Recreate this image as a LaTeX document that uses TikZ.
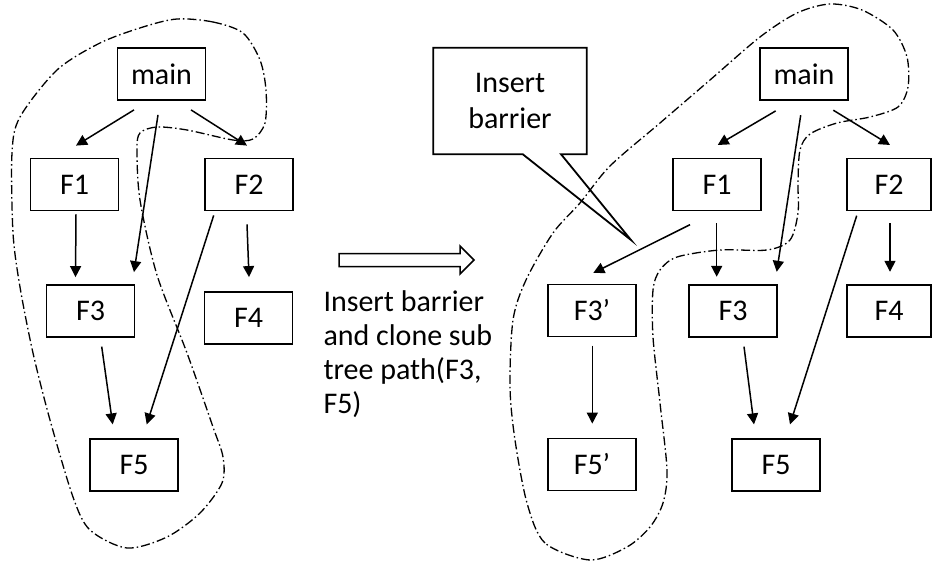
\documentclass[tikz,border=0pt]{standalone}
\usepackage{fontspec}
\setmainfont{Carlito}
\usetikzlibrary{arrows.meta,calc}
\begin{document}
\begin{tikzpicture}[x=1pt,y=-1pt,
  lbl/.style={font=\fontsize{30}{34}\selectfont},
  fbox/.style={draw, line width=1.8pt, minimum width=88pt, minimum height=52pt, inner sep=0pt, lbl},
  arr/.style={line width=1.5pt, -{Triangle[length=11pt,width=11pt]}},
  region/.style={line width=1.3pt, dash pattern=on 9pt off 3pt on 1.5pt off 3pt}]
\path[use as bounding box] (0,0) rectangle (932,567);

% ---- original call tree ----
\node[fbox] (mL)  at (161.5,74)  {main};
\node[fbox] (f1L) at (74.5,184.5) {F1};
\node[fbox] (f2L) at (249,184.5)  {F2};
\node[fbox] (f3L) at (90.5,311)   {F3};
\node[fbox] (f4L) at (248.5,318)  {F4};
\node[fbox] (f5L) at (134,465)    {F5};

\draw[arr] ($(mL.south)+(-27.5,9)$) -- ($(f1L.north)+(1.5,-12)$);
\draw[arr] ($(mL.south)+(29.5,9)$) -- ($(f2L.north)+(-2,-12)$);
\draw[arr] ($(mL.south)+(-3.5,14)$) -- ($(f3L.north)+(43.5,-12)$);
\draw[arr] ($(f1L.south)+(1.5,3)$) -- ($(f3L.north)+(-15,-7)$);
\draw[arr] ($(f2L.south)+(-2,13)$) -- ($(f4L.north)+(0.5,-14)$);
\draw[arr] ($(f2L.south)+(-35.3,4)$) -- ($(f5L.north)+(12.7,-13.7)$);
\draw[arr] ($(f3L.south)+(11.2,8.7)$) -- ($(f5L.north)+(-21.3,-13.7)$);

% region of the shared sub tree
\draw[region] plot[smooth cycle] coordinates {
  (177,19) (213,22) (243,33) (260,60) (266,90) (265,123) (253,139) (233,140)
  (187,130) (157,127) (140,133) (137,150) (140,200) (157,275) (187,353)
  (213,427) (223,457) (222,483) (200,513) (167,537) (127,548) (90,530)
  (73,497) (50,420) (33,353) (20,287) (13,233) (12,153) (20,117) (57,70)
  (100,43) (143,27)};

% ---- transformation ----
\draw[line width=1.5pt, line join=miter] (339,253.5) -- (460,253.5) -- (460,246) -- (474,260)
  -- (460,274) -- (460,266.5) -- (339,266.5) -- cycle;
\node[anchor=base west, inner sep=0pt, lbl] (note) at (323.3,311.7)
  {\parbox[t]{200pt}{\raggedright Insert barrier\\and clone sub\\tree path(F3,\\F5)}};

% ---- transformed call tree ----
\node[fbox] (mR)   at (804,74)    {main};
\node[fbox] (f1R)  at (717,184.5) {F1};
\node[fbox, minimum width=84pt] (f2R) at (889,184.5) {F2};
\node[fbox] (f3cR) at (592,310.5) {F3’};
\node[fbox] (f3R)  at (733,311)   {F3};
\node[fbox, minimum width=84pt] (f4R) at (889,311) {F4};
\node[fbox] (f5cR) at (592,464.5) {F5’};
\node[fbox] (f5R)  at (776,465)   {F5};

\draw[arr] ($(mR.south)+(-28.3,10)$) -- ($(f1R.north)+(0.7,-12.6)$);
\draw[arr] ($(mR.south)+(29.3,9.3)$) -- ($(f2R.north)+(1,-12.6)$);
\draw[arr] ($(mR.south)+(-3.3,14.3)$) -- ($(f3R.north)+(43.7,-12.3)$);
\draw[arr] ($(f1R.south)+(-0.3,12)$) -- ($(f3R.north)+(-16.3,-7.3)$);
\draw[arr] ($(f2R.south)+(1,12)$) -- ($(f4R.north)+(1,-12.3)$);
\draw[arr] ($(f1R.south)+(-27,13.3)$) -- ($(f3cR.north)+(1.3,-10.7)$);
\draw[arr] ($(f2R.south)+(-32.3,4.3)$) -- ($(f5R.north)+(14,-13.7)$);
\draw[arr] ($(f3R.south)+(11,8.7)$) -- ($(f5R.north)+(-22,-13.7)$);
\draw[arr] ($(f3cR.south)+(0.3,8.3)$) -- ($(f5cR.north)+(0.3,-14)$);

\draw[region] plot[smooth cycle] coordinates {
  (590,560) (545,543) (527,503) (515,440) (510,387) (513,320) (526,280)
  (553,233) (580,203) (610,166) (660,123) (710,80) (760,37) (797,13)
  (830,4) (862,10) (893,30) (907,57) (908,87) (898,107) (870,117) (837,123)
  (810,134) (800,150) (798,183) (798,213) (790,240) (767,250) (720,250)
  (677,257) (660,270) (653,290) (653,337) (660,403) (667,470) (663,503)
  (650,527) (627,547)};

% ---- callout ----
\node[minimum width=153pt, minimum height=106pt, inner sep=0pt, align=center,
  font=\fontsize{30}{36}\selectfont] (call) at (510,101) {Insert\\barrier};
\coordinate (tip) at (631,240);
\draw[line width=1.8pt, line join=miter] (call.north west) -- (call.north east)
  -- (call.south east) -- ($(call.south west)+(127.7,0)$) -- (tip)
  -- ($(call.south west)+(89.4,0)$) -- (call.south west) -- cycle;
\end{tikzpicture}
\end{document}
